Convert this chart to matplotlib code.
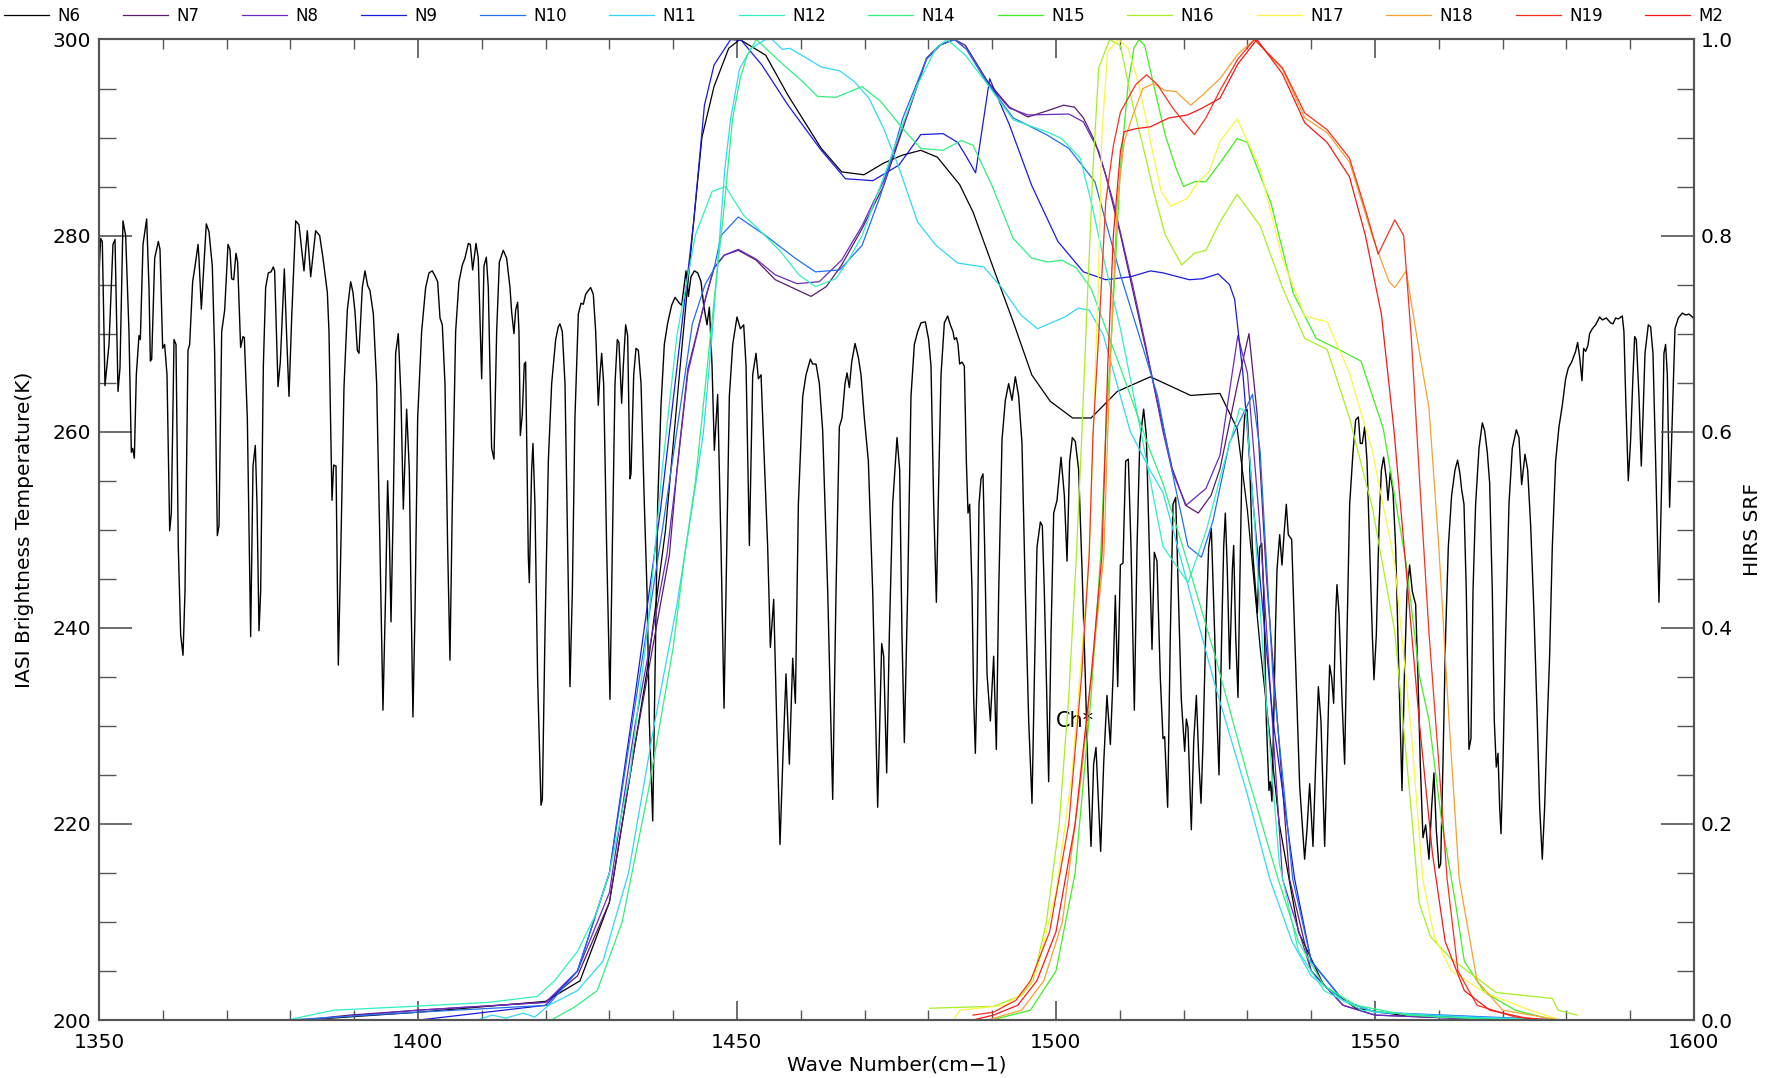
import numpy as np
import matplotlib
matplotlib.use('Agg')
import matplotlib.pyplot as plt
from matplotlib.ticker import MultipleLocator

iasi_a = [(1350.0, 276.0), (1350.26, 279.7), (1350.52, 279.4), (1350.94, 264.7), (1351.57, 268.9),
          (1352.19, 279.1), (1352.51, 279.6), (1352.98, 264.1), (1353.29, 266.5), (1353.76, 281.5),
          (1354.18, 280.0), (1354.70, 270.2), (1355.07, 257.9), (1355.28, 258.3), (1355.54, 257.3),
          (1355.85, 265.8), (1356.27, 269.8), (1356.48, 269.4), (1356.90, 279.1), (1357.47, 281.7),
          (1357.84, 274.7), (1358.05, 267.2), (1358.26, 267.4), (1358.73, 277.7), (1359.30, 279.4),
          (1359.56, 278.6), (1359.98, 268.5), (1360.29, 268.9), (1360.66, 265.8), (1361.08, 249.9),
          (1361.34, 251.7), (1361.76, 269.4), (1362.07, 268.9), (1362.43, 248.2), (1362.80, 239.3),
          (1363.17, 237.2), (1363.48, 243.7), (1363.95, 268.3), (1364.21, 268.9), (1364.68, 275.3),
          (1365.15, 277.3), (1365.52, 279.1), (1365.67, 277.7), (1366.04, 272.5), (1366.35, 276.0),
          (1366.82, 281.2), (1367.24, 280.4), (1367.76, 276.9), (1368.13, 268.0), (1368.55, 249.4),
          (1368.81, 250.4), (1369.23, 270.2), (1369.70, 272.4), (1370.22, 279.1), (1370.53, 278.6),
          (1370.79, 275.6), (1371.11, 275.5), (1371.47, 278.2), (1371.73, 277.3), (1372.20, 268.6),
          (1372.57, 269.7), (1372.78, 269.6), (1373.25, 261.4), (1373.77, 239.1), (1374.14, 256.5),
          (1374.50, 258.6), (1374.77, 252.6), (1375.08, 239.7), (1375.34, 243.7), (1375.76, 266.7),
          (1376.12, 274.7), (1376.54, 276.2), (1376.96, 276.3), (1377.32, 276.8), (1377.53, 276.4),
          (1378.06, 264.6), (1378.42, 267.1), (1379.05, 276.6), (1379.36, 270.7), (1379.78, 263.6),
          (1380.20, 271.6), (1380.83, 281.5), (1381.35, 281.1), (1382.13, 276.4), (1382.65, 280.5),
          (1383.18, 275.8), (1383.96, 280.5), (1384.59, 280.0), (1385.11, 277.7), (1385.79, 274.2),
          (1386.05, 270.2), (1386.52, 253.0), (1386.78, 256.6), (1387.15, 256.5), (1387.51, 236.2),
          (1387.88, 247.3), (1388.40, 264.5), (1388.92, 272.4), (1389.45, 275.3), (1389.81, 274.2),
          (1390.13, 272.2), (1390.49, 268.3), (1390.75, 268.0), (1391.27, 274.7)]
iasi_b = [(1391.69, 276.4), (1392.11, 274.9), (1392.47, 274.4), (1393.0, 272.0), (1393.52, 264.9),
          (1394.04, 248.2), (1394.51, 231.6), (1394.93, 243.7), (1395.24, 255.0), (1395.50, 249.9),
          (1395.77, 240.6), (1396.13, 252.6), (1396.50, 268.0), (1396.91, 270.0), (1397.33, 263.6),
          (1397.70, 252.1), (1398.22, 262.3), (1398.64, 256.1), (1398.90, 243.7), (1399.21, 230.9),
          (1399.53, 241.5), (1399.95, 261.4), (1400.57, 270.2), (1401.20, 274.7), (1401.72, 276.2),
          (1402.24, 276.4), (1402.66, 275.9), (1403.08, 275.3), (1403.45, 271.6), (1403.81, 270.9),
          (1404.23, 264.9), (1404.65, 248.2), (1405.01, 236.7), (1405.38, 252.6), (1405.90, 270.2),
          (1406.42, 275.3), (1406.95, 277.0), (1407.36, 277.7), (1407.89, 279.2), (1408.20, 279.1),
          (1408.57, 276.5), (1409.09, 279.2), (1409.45, 277.7), (1409.98, 265.4), (1410.34, 276.9),
          (1410.71, 277.8), (1411.02, 274.7), (1411.54, 258.3), (1411.91, 257.2), (1412.33, 270.2),
          (1412.75, 277.3), (1413.37, 278.5), (1413.89, 277.7), (1414.42, 274.7), (1414.68, 272.2),
          (1415.04, 270.0), (1415.31, 272.4), (1415.62, 273.2), (1415.83, 270.2), (1416.04, 259.6),
          (1416.35, 261.8), (1416.66, 266.9), (1416.87, 267.1), (1417.08, 257.0), (1417.29, 247.3),
          (1417.45, 244.6), (1417.81, 256.1), (1418.02, 258.8), (1418.33, 252.6), (1418.75, 234.9),
          (1419.28, 221.9), (1419.49, 222.5), (1419.90, 239.3), (1420.43, 257.0), (1420.95, 264.9),
          (1421.58, 269.4), (1421.99, 270.7), (1422.25, 271.0), (1422.62, 270.2), (1423.04, 264.9),
          (1423.40, 250.4), (1423.82, 234.0), (1424.19, 243.7), (1424.60, 261.4), (1425.13, 272.0),
          (1425.55, 273.1), (1425.91, 273.0), (1426.28, 274.0), (1426.70, 274.4), (1427.06, 274.7),
          (1427.48, 274.0), (1427.85, 270.2), (1428.26, 262.7), (1428.52, 265.8), (1428.79, 268.0),
          (1429.10, 264.9), (1429.57, 248.2), (1430.09, 232.7), (1430.46, 248.2), (1430.88, 264.9),
          (1431.24, 269.4), (1431.50, 269.1), (1431.92, 262.9), (1432.18, 266.7), (1432.55, 270.9),
          (1432.86, 269.8), (1433.23, 255.2)]
iasi_c = [(1433.39, 255.7), (1433.81, 265.8), (1434.17, 268.5), (1434.54, 268.3), (1434.96, 264.9),
          (1435.48, 252.6), (1435.90, 243.7), (1436.26, 230.5), (1436.79, 220.3), (1437.15, 234.9),
          (1437.57, 252.6), (1438.09, 262.7), (1438.61, 268.9), (1439.14, 271.1), (1439.76, 272.9),
          (1440.29, 273.7), (1440.97, 273.1), (1441.33, 272.9), (1442.01, 276.4), (1442.38, 273.8),
          (1442.79, 275.8), (1443.32, 276.4), (1443.84, 276.2), (1444.36, 275.3), (1444.78, 272.9),
          (1445.30, 270.9), (1445.67, 272.7), (1446.09, 266.7), (1446.45, 258.1), (1446.97, 263.8),
          (1447.50, 248.2), (1447.97, 231.8), (1448.28, 243.7), (1448.80, 263.6), (1449.33, 268.9),
          (1450.0, 271.7), (1450.53, 270.5), (1451.05, 270.9), (1451.42, 266.7), (1451.94, 248.4),
          (1452.46, 265.8), (1452.98, 268.0), (1453.35, 265.4), (1453.77, 265.8), (1454.29, 257.0),
          (1454.81, 248.2), (1455.23, 238.0), (1455.75, 242.9), (1456.22, 230.5), (1456.74, 217.9),
          (1457.16, 226.1), (1457.68, 235.3), (1458.21, 226.1), (1458.73, 236.9), (1459.15, 232.3),
          (1459.62, 252.6), (1460.30, 263.6), (1460.82, 265.8), (1461.50, 267.4), (1461.87, 266.9),
          (1462.39, 266.9), (1462.91, 264.9), (1463.43, 260.1), (1464.22, 243.7), (1465.0, 222.5),
          (1465.52, 243.7), (1466.04, 260.5), (1466.46, 261.4), (1466.93, 264.9), (1467.25, 266.0),
          (1467.61, 264.5), (1467.98, 267.1), (1468.50, 269.0), (1469.02, 267.6), (1469.44, 265.8),
          (1469.96, 261.4), (1470.59, 257.0), (1471.27, 243.7), (1472.05, 221.7), (1472.68, 238.4),
          (1472.99, 237.1), (1473.46, 225.2), (1473.88, 239.3), (1474.40, 252.6)]
iasi_d = [(1475.08, 259.4), (1475.50, 256.1), (1475.86, 239.3), (1476.23, 228.3), (1476.75, 243.7),
          (1477.27, 263.6), (1477.80, 268.9), (1478.32, 270.2), (1478.84, 271.1), (1479.52, 271.2),
          (1480.04, 269.4), (1480.41, 266.7), (1480.83, 252.6), (1481.25, 242.6), (1481.61, 254.8),
          (1481.98, 265.8), (1482.50, 271.1), (1483.02, 271.8), (1483.44, 270.9), (1483.86, 270.2),
          (1484.07, 269.4), (1484.38, 269.6), (1484.64, 268.9), (1484.90, 266.9), (1485.27, 267.1),
          (1485.63, 266.7), (1485.95, 257.0), (1486.21, 251.7), (1486.47, 252.6), (1486.84, 243.7),
          (1487.10, 232.7), (1487.36, 227.2), (1487.62, 234.9), (1487.93, 252.6), (1488.25, 255.2),
          (1488.56, 255.7), (1488.82, 248.2), (1489.19, 235.3), (1489.71, 230.5), (1490.23, 237.1),
          (1490.65, 227.6), (1491.02, 243.7), (1491.54, 259.2), (1492.06, 263.2), (1492.58, 264.9),
          (1493.11, 263.2), (1493.63, 265.6), (1494.15, 263.6), (1494.67, 258.8), (1495.19, 243.7),
          (1495.72, 230.5), (1496.24, 222.1), (1496.61, 234.9), (1497.02, 248.2), (1497.55, 250.8),
          (1497.86, 250.4), (1498.17, 243.7), (1498.49, 234.9), (1498.85, 224.3), (1499.22, 239.3),
          (1499.64, 251.7), (1500.16, 253.0), (1500.79, 257.4), (1501.31, 253.5), (1501.73, 246.8),
          (1502.14, 257.0), (1502.56, 259.4), (1503.03, 259.0), (1503.55, 256.1), (1504.08, 246.0),
          (1504.60, 234.9), (1504.97, 226.1), (1505.49, 217.7), (1505.90, 226.1), (1506.27, 227.8),
          (1506.69, 221.7), (1507.0, 217.2), (1507.47, 226.1), (1507.99, 233.1), (1508.52, 228.1),
          (1508.94, 234.9), (1509.30, 243.3), (1509.67, 234.0), (1510.09, 246.4), (1510.50, 246.6),
          (1510.92, 257.0), (1511.34, 257.2), (1511.76, 248.2), (1512.28, 231.6), (1512.70, 248.2),
          (1513.12, 258.8), (1513.74, 262.3), (1514.16, 259.6), (1514.63, 248.2), (1515.05, 237.8),
          (1515.41, 247.7), (1515.83, 246.8), (1516.35, 234.9)]
iasi_e = [(1516.77, 228.7), (1517.03, 228.9), (1517.50, 221.7), (1517.92, 239.3), (1518.34, 252.6),
          (1518.76, 253.3), (1519.17, 243.7), (1519.64, 232.7), (1520.17, 227.4), (1520.43, 230.7),
          (1520.69, 229.8), (1521.21, 219.4), (1521.58, 228.3), (1522.0, 233.1), (1522.41, 226.1),
          (1522.73, 222.1), (1523.04, 228.3), (1523.46, 239.3), (1523.93, 248.2), (1524.35, 250.1),
          (1524.87, 239.3), (1525.13, 232.7), (1525.55, 225.0), (1525.97, 239.3), (1526.28, 248.2),
          (1526.54, 251.7), (1526.85, 245.9), (1527.22, 235.8), (1527.64, 245.9), (1527.85, 248.4),
          (1528.16, 239.3), (1528.53, 232.9), (1528.79, 243.7), (1529.15, 257.0), (1529.57, 261.6),
          (1529.94, 262.3), (1530.35, 257.0), (1530.77, 248.2), (1531.29, 243.7), (1531.56, 241.5),
          (1531.92, 248.2), (1532.24, 248.6), (1532.55, 243.7), (1532.97, 230.5), (1533.38, 223.4),
          (1533.59, 224.3), (1533.85, 222.3), (1534.12, 230.5), (1534.38, 239.3), (1534.64, 245.9),
          (1535.06, 249.5), (1535.42, 246.4), (1535.74, 249.5), (1536.10, 252.6), (1536.41, 249.5),
          (1536.94, 249.0), (1537.41, 239.3), (1538.19, 223.9), (1538.97, 216.4), (1539.34, 219.4),
          (1539.76, 224.1), (1540.28, 217.7), (1540.70, 226.1), (1541.12, 234.0), (1541.53, 230.5),
          (1542.11, 217.7), (1542.47, 226.1), (1542.89, 236.2), (1543.21, 234.9), (1543.52, 232.3),
          (1543.84, 241.5), (1544.04, 244.4), (1544.36, 241.5), (1544.83, 232.7), (1545.24, 226.1),
          (1545.61, 239.3), (1546.03, 252.6), (1546.55, 257.9), (1546.97, 261.2), (1547.39, 261.5),
          (1547.70, 258.8), (1548.01, 258.8), (1548.38, 260.5), (1548.75, 257.0), (1549.16, 248.2),
          (1549.58, 239.3), (1549.84, 234.7), (1550.21, 239.3), (1550.63, 250.4), (1551.0, 256.1),
          (1551.36, 257.4), (1551.78, 255.2), (1552.04, 253.0), (1552.40, 255.9), (1552.82, 253.9),
          (1553.24, 248.2), (1553.76, 234.9), (1554.23, 223.4), (1554.60, 234.9), (1555.02, 243.7),
          (1555.43, 246.4), (1555.85, 243.7), (1556.37, 242.4), (1556.74, 234.9), (1557.10, 226.1),
          (1557.52, 218.6), (1557.94, 219.9)]
iasi_f = [(1558.46, 216.4), (1558.88, 221.7), (1559.24, 225.2), (1559.61, 219.4), (1560.03, 215.5),
          (1560.29, 215.9), (1560.65, 226.1), (1561.07, 239.3), (1561.49, 248.2), (1562.01, 253.5),
          (1562.54, 256.1), (1562.95, 257.1), (1563.32, 255.7), (1563.58, 254.1), (1563.95, 252.6),
          (1564.31, 243.7), (1564.73, 227.6), (1565.04, 228.7), (1565.36, 243.7), (1565.77, 252.6),
          (1566.30, 258.3), (1566.82, 260.9), (1567.19, 260.1), (1567.60, 257.9), (1567.97, 254.8),
          (1568.39, 243.7), (1568.70, 230.5), (1569.01, 225.8), (1569.28, 227.2), (1569.54, 221.7),
          (1569.75, 219.0), (1570.06, 226.1), (1570.48, 239.3), (1571.0, 252.6), (1571.52, 258.3),
          (1572.15, 260.2), (1572.57, 259.4), (1572.99, 254.6), (1573.51, 257.7), (1573.93, 256.1),
          (1574.40, 250.4), (1574.92, 241.5), (1575.44, 230.5), (1575.81, 221.7), (1576.22, 216.4),
          (1576.59, 221.7), (1577.01, 230.5), (1577.37, 237.1), (1577.79, 248.2), (1578.31, 257.0),
          (1578.84, 260.5), (1579.36, 262.7), (1579.88, 265.4), (1580.30, 266.5), (1580.82, 267.1),
          (1581.45, 268.2), (1581.76, 269.1), (1582.08, 267.6), (1582.44, 265.2), (1582.70, 268.5),
          (1583.02, 268.2), (1583.38, 268.8), (1583.64, 270.0), (1584.06, 270.5), (1584.58, 270.9),
          (1585.21, 271.7), (1585.63, 271.4), (1586.26, 271.6), (1586.93, 271.1), (1587.30, 271.0),
          (1587.72, 271.6), (1588.14, 271.5), (1588.76, 271.8), (1589.02, 270.2), (1589.29, 263.6),
          (1589.70, 255.0), (1590.07, 259.2), (1590.44, 265.8), (1590.70, 269.7), (1590.96, 269.4),
          (1591.38, 263.6), (1591.74, 256.5), (1592.0, 261.4), (1592.32, 268.0), (1592.84, 270.9),
          (1593.20, 270.7), (1593.57, 268.0), (1593.99, 257.0), (1594.51, 242.6), (1594.93, 254.8),
          (1595.29, 268.0), (1595.55, 268.9), (1595.82, 265.8), (1596.18, 252.3), (1596.60, 261.4),
          (1597.02, 270.5), (1597.54, 271.6), (1598.17, 272.1), (1598.69, 271.9), (1599.21, 272.0),
          (1599.74, 271.7), (1600.0, 271.5)]

# HIRS spectral response functions, (wave number, SRF)
srf_n6 = [(1382, 0.0), (1400.2, 0.008), (1420.0, 0.019), (1425.4, 0.04), (1430, 0.12), (1434, 0.28),
          (1436, 0.36), (1438.8, 0.5), (1441, 0.66), (1443, 0.8), (1444.5, 0.9), (1446.4, 0.952),
          (1448.7, 0.991), (1450.45, 1.0), (1454.5, 0.984), (1458.0, 0.943), (1463.2, 0.889),
          (1466.4, 0.865), (1469.9, 0.862), (1473.0, 0.874), (1475.9, 0.882), (1478.8, 0.887),
          (1481.4, 0.880), (1484.9, 0.852), (1487.0, 0.824), (1490.4, 0.763), (1493.3, 0.712),
          (1496.2, 0.658), (1499.1, 0.631), (1502.6, 0.614), (1505.5, 0.614), (1509.6, 0.641),
          (1514.8, 0.656), (1521.1, 0.637), (1525.7, 0.639), (1528.4, 0.603), (1530, 0.52), (1532, 0.38),
          (1535, 0.2), (1538, 0.09), (1542, 0.035), (1547, 0.012), (1555, 0.004), (1575, 0.0)]
srf_n7 = [(1382, 0.0), (1389.3, 0.005), (1400, 0.01), (1420, 0.018), (1425, 0.045), (1430, 0.12),
          (1434, 0.28), (1439.4, 0.474), (1440.6, 0.562), (1442.3, 0.664), (1445.2, 0.739),
          (1446.4, 0.767), (1448, 0.78), (1450.2, 0.785), (1453, 0.775), (1456, 0.755), (1461.6, 0.738),
          (1464, 0.748), (1466.4, 0.770), (1469.6, 0.807), (1473, 0.851), (1476.5, 0.919),
          (1479.7, 0.981), (1481.7, 0.994), (1484.1, 1.0), (1485.8, 0.994), (1489.3, 0.957),
          (1492.7, 0.931), (1495.6, 0.921), (1498.5, 0.927), (1501.2, 0.933), (1502.9, 0.931),
          (1504.3, 0.920), (1506.1, 0.896), (1507.8, 0.862), (1510.1, 0.801), (1513, 0.716),
          (1515.9, 0.631), (1518.2, 0.563), (1520.3, 0.525), (1522.3, 0.517), (1524.3, 0.535),
          (1525.7, 0.562), (1528.5, 0.65), (1530.25, 0.70), (1531.5, 0.62), (1533, 0.45), (1536.6, 0.144),
          (1540, 0.05), (1545, 0.015), (1550, 0.005), (1570, 0.0)]
srf_n8 = [(1382, 0.0), (1400, 0.01), (1420, 0.018), (1425, 0.05), (1430, 0.13), (1434, 0.3),
          (1439, 0.474), (1440.6, 0.56), (1442.3, 0.66), (1445.2, 0.74), (1446.4, 0.767), (1448, 0.78),
          (1450.2, 0.786), (1453, 0.776), (1456, 0.76), (1459.4, 0.751), (1462.9, 0.753),
          (1466.4, 0.775), (1469.6, 0.81), (1473, 0.856), (1476.5, 0.92), (1479.7, 0.98), (1482, 0.995),
          (1484.1, 1.0), (1486, 0.99), (1489.3, 0.955), (1492.7, 0.93), (1495.6, 0.923), (1502, 0.924),
          (1504.3, 0.916), (1506.7, 0.886), (1509, 0.834), (1512, 0.75), (1514, 0.69), (1516.77, 0.6),
          (1518.2, 0.56), (1520.4, 0.525), (1523.5, 0.542), (1525.7, 0.576), (1528.5, 0.698),
          (1530, 0.66), (1532, 0.5), (1535.5, 0.144), (1540, 0.05), (1545, 0.015), (1550, 0.005),
          (1570, 0.0)]
srf_n9 = [(1400.2, 0.0), (1420, 0.015), (1425, 0.05), (1430, 0.15), (1434, 0.33), (1438, 0.52),
          (1441.2, 0.7), (1443.2, 0.814), (1444.9, 0.933), (1446.4, 0.974), (1449, 1.0), (1450.7, 0.999),
          (1453.9, 0.974), (1458, 0.933), (1463.2, 0.887), (1467, 0.858), (1471.3, 0.856),
          (1475.4, 0.872), (1478.8, 0.903), (1482.3, 0.904), (1484.6, 0.895), (1486, 0.88),
          (1487.4, 0.864), (1489.6, 0.96), (1492.7, 0.913), (1496.2, 0.851), (1500.3, 0.794),
          (1504.3, 0.763), (1507.8, 0.755), (1511.7, 0.758), (1514.8, 0.764), (1516.77, 0.762),
          (1520.9, 0.755), (1523, 0.756), (1525.4, 0.761), (1527.2, 0.75), (1528, 0.735), (1529.3, 0.659),
          (1530.9, 0.527), (1534, 0.306), (1537.4, 0.144), (1540, 0.06), (1545, 0.02), (1550, 0.008),
          (1565, 0.002), (1579, 0.0)]
srf_n10 = [(1379.5, 0.0), (1400, 0.008), (1420.4, 0.015), (1425, 0.05), (1430, 0.15), (1434, 0.32),
           (1438.3, 0.5), (1441, 0.62), (1443, 0.71), (1445, 0.75), (1446.4, 0.766), (1447.5, 0.8),
           (1450.2, 0.819), (1454.5, 0.8), (1459.1, 0.777), (1462.3, 0.763), (1466.1, 0.765),
           (1469.6, 0.79), (1472.5, 0.841), (1476, 0.92), (1479.7, 0.98), (1482, 0.995), (1484.1, 1.0),
           (1486, 0.99), (1489.3, 0.955), (1493.3, 0.92), (1498.5, 0.903), (1502, 0.889),
           (1506.1, 0.855), (1507.8, 0.814), (1510.1, 0.76), (1513, 0.699), (1515.9, 0.637),
           (1518.5, 0.55), (1520.7, 0.483), (1522.8, 0.472), (1524.6, 0.509), (1527.2, 0.589),
           (1530.8, 0.638), (1532, 0.58), (1534, 0.35), (1537.1, 0.144), (1540, 0.06), (1545, 0.02),
           (1550, 0.008), (1579, 0.0)]
srf_n11 = [(1409.3, 0.0), (1411.6, 0.005), (1413.8, 0.002), (1416.5, 0.007), (1418.3, 0.003),
           (1420.5, 0.015), (1425, 0.03), (1429, 0.06), (1433, 0.15), (1437, 0.3), (1440.5, 0.42),
           (1442.9, 0.52), (1444.7, 0.597), (1446.1, 0.699), (1447.3, 0.8), (1448.1, 0.868),
           (1449, 0.919), (1450.4, 0.970), (1452.2, 0.991), (1454.5, 1.0), (1455.5, 1.0), (1457.1, 0.990),
           (1458.3, 0.991), (1460.9, 0.981), (1463.2, 0.972), (1466.1, 0.968), (1468.4, 0.957),
           (1470.7, 0.940), (1473, 0.909), (1475.4, 0.869), (1478.3, 0.814), (1481.2, 0.790),
           (1484.6, 0.772), (1488.7, 0.768), (1491.6, 0.746), (1494.5, 0.719), (1497.1, 0.705),
           (1501.4, 0.717), (1503.5, 0.726), (1505.2, 0.724), (1507.4, 0.699), (1511.65, 0.60),
           (1514.8, 0.56), (1516.77, 0.538), (1520, 0.46), (1525, 0.34), (1530, 0.23), (1533.5, 0.144),
           (1537, 0.08), (1540, 0.045), (1545, 0.02), (1550, 0.008), (1565, 0.003), (1579, 0.0)]
srf_n12 = [(1379.5, 0.0), (1386.8, 0.01), (1399.4, 0.014), (1411.1, 0.018), (1418.7, 0.024),
           (1421.4, 0.04), (1425, 0.07), (1427.9, 0.108), (1430, 0.15), (1433.2, 0.25), (1436, 0.4),
           (1438.3, 0.563), (1440.6, 0.699), (1443.5, 0.801), (1446.1, 0.845), (1448.2, 0.85),
           (1451, 0.821), (1453.3, 0.807), (1456.8, 0.784), (1459.7, 0.76), (1462.3, 0.748),
           (1465.5, 0.756), (1467.3, 0.773), (1469.6, 0.8), (1472.5, 0.851), (1475.4, 0.903),
           (1478.3, 0.954), (1481.2, 0.991), (1482.9, 1.0), (1485.8, 0.984), (1489.3, 0.954),
           (1493.3, 0.918), (1498.5, 0.906), (1500.9, 0.899), (1503.8, 0.879), (1505.5, 0.835),
           (1507.2, 0.784), (1510.1, 0.705), (1513.6, 0.59), (1516.77, 0.483), (1520.7, 0.446),
           (1523.6, 0.5), (1526, 0.56), (1528.8, 0.624), (1529.8, 0.62), (1531, 0.52), (1533, 0.32),
           (1535, 0.16), (1538, 0.07), (1542, 0.03), (1548, 0.01), (1560, 0.003), (1579, 0.0)]
srf_n14 = [(1420.9, 0.0), (1424.5, 0.013), (1428.1, 0.03), (1432, 0.1), (1436, 0.23), (1440, 0.38),
           (1441.8, 0.474), (1443.5, 0.55), (1446.4, 0.733), (1448, 0.83), (1449.3, 0.919),
           (1450.5, 0.96), (1451.6, 0.984), (1453.05, 1.0), (1456.8, 0.977), (1460.3, 0.957),
           (1462.6, 0.942), (1465.5, 0.941), (1469.6, 0.952), (1472.5, 0.937), (1476, 0.909),
           (1478.8, 0.889), (1482.3, 0.887), (1485.2, 0.897), (1487, 0.892), (1489.9, 0.852),
           (1493.3, 0.797), (1496.2, 0.777), (1498.8, 0.773), (1500.9, 0.775), (1503.2, 0.767),
           (1505.5, 0.746), (1507.2, 0.716), (1510.1, 0.665), (1514.8, 0.58), (1516.77, 0.547),
           (1520, 0.48), (1525, 0.37), (1530, 0.25), (1534.8, 0.144), (1538, 0.08), (1542, 0.035),
           (1547, 0.015), (1555, 0.005), (1570, 0.0)]
srf_n15 = [(1490, 0.0), (1496, 0.01), (1500, 0.05), (1503, 0.15), (1505.5, 0.33), (1507, 0.474),
           (1507.8, 0.597), (1509, 0.733), (1510.1, 0.869), (1511.3, 0.954), (1512.2, 0.991),
           (1513, 1.0), (1513.9, 0.994), (1515.3, 0.954), (1517.1, 0.903), (1518.8, 0.869), (1520, 0.85),
           (1521.7, 0.855), (1523.5, 0.855), (1525.7, 0.874), (1528.4, 0.899), (1530, 0.895),
           (1533.7, 0.833), (1537.2, 0.741), (1540.8, 0.695), (1544.3, 0.684), (1547.8, 0.672),
           (1551.3, 0.603), (1554.9, 0.465), (1557, 0.35), (1558.46, 0.306), (1560.5, 0.2),
           (1562.6, 0.12), (1564, 0.06), (1567.2, 0.028), (1572, 0.01), (1578, 0.0)]
srf_n16 = [(1480.2, 0.012), (1490.2, 0.014), (1494.6, 0.025), (1496.4, 0.04), (1498.5, 0.1),
           (1500.5, 0.2), (1502, 0.33), (1503.2, 0.474), (1504.05, 0.597), (1504.9, 0.733),
           (1505.8, 0.869), (1506.7, 0.971), (1508.4, 1.0), (1510.1, 0.994), (1511.9, 0.937),
           (1513.6, 0.892), (1515.3, 0.845), (1517.1, 0.801), (1519.7, 0.77), (1521.7, 0.782),
           (1523.5, 0.785), (1525.7, 0.814), (1528.4, 0.842), (1532, 0.81), (1535.5, 0.747),
           (1539, 0.695), (1542.5, 0.684), (1546, 0.614), (1549.6, 0.522), (1553.1, 0.396),
           (1555.7, 0.212), (1556.9, 0.12), (1558.7, 0.085), (1562, 0.062), (1569, 0.028),
           (1577.8, 0.022), (1578.7, 0.01), (1581.7, 0.005)]
srf_n17 = [(1484, 0.0), (1484.9, 0.01), (1492, 0.015), (1494.6, 0.027), (1497, 0.05), (1500, 0.13),
           (1502.5, 0.25), (1504, 0.37), (1505.2, 0.474), (1506, 0.631), (1506.7, 0.767),
           (1507.2, 0.903), (1508.1, 0.988), (1509.8, 1.0), (1511.3, 0.991), (1513, 0.954),
           (1514.8, 0.896), (1516.5, 0.845), (1518, 0.83), (1520.6, 0.838), (1522.3, 0.855),
           (1524, 0.865), (1525.7, 0.896), (1528.4, 0.919), (1532, 0.868), (1535.5, 0.776),
           (1539, 0.718), (1542.5, 0.712), (1546, 0.66), (1549.6, 0.58), (1553.1, 0.465),
           (1555.7, 0.292), (1557.5, 0.143), (1559.3, 0.085), (1562, 0.05), (1567.2, 0.028),
           (1574.3, 0.01), (1579, 0.0)]
srf_n18 = [(1489.3, 0.0), (1494.6, 0.01), (1498.1, 0.04), (1501, 0.1), (1504, 0.25), (1506, 0.38),
           (1507.5, 0.474), (1508.1, 0.597), (1508.7, 0.699), (1509.6, 0.835), (1510.7, 0.896),
           (1511.9, 0.920), (1513.6, 0.950), (1515.3, 0.955), (1517.1, 0.948), (1518.8, 0.947),
           (1521.1, 0.933), (1522.9, 0.943), (1525.7, 0.960), (1528.5, 0.985), (1531.1, 1.0),
           (1535.5, 0.97), (1539, 0.92), (1542.5, 0.905), (1546, 0.875), (1549.6, 0.799),
           (1552.2, 0.753), (1553.1, 0.747), (1554.9, 0.764), (1556.3, 0.707), (1558.46, 0.624),
           (1560, 0.483), (1561.6, 0.306), (1563.2, 0.144), (1566, 0.04), (1570, 0.01), (1579, 0.0)]
srf_n19 = [(1487, 0.005), (1490.2, 0.008), (1493.7, 0.02), (1496, 0.04), (1499, 0.09), (1502, 0.2),
           (1504, 0.35), (1505.2, 0.474), (1505.8, 0.597), (1506.7, 0.699), (1507.8, 0.835),
           (1509, 0.892), (1510.1, 0.926), (1512.5, 0.954), (1514.2, 0.964), (1515.9, 0.954),
           (1518.2, 0.931), (1520, 0.916), (1521.7, 0.903), (1523.5, 0.920), (1525.7, 0.948),
           (1528.5, 0.98), (1531.1, 1.0), (1535.5, 0.971), (1539, 0.925), (1542.5, 0.908),
           (1546, 0.879), (1548.7, 0.822), (1550.5, 0.781), (1553.1, 0.816), (1554.5, 0.8),
           (1555.7, 0.695), (1557, 0.55), (1558.46, 0.395), (1560, 0.262), (1561.3, 0.144),
           (1563, 0.05), (1566, 0.015), (1572, 0.003), (1578, 0.0)]
srf_m2 = [(1487, 0.0), (1490.2, 0.005), (1494, 0.015), (1497, 0.04), (1500, 0.09), (1503, 0.2),
          (1505.5, 0.35), (1507.2, 0.474), (1508.1, 0.665), (1509, 0.801), (1510.1, 0.886),
          (1510.7, 0.906), (1512.5, 0.909), (1514.8, 0.911), (1517.7, 0.920), (1520.6, 0.923),
          (1522.9, 0.930), (1525.7, 0.940), (1528.5, 0.975), (1531.5, 1.0), (1535.5, 0.965),
          (1539, 0.915), (1542.5, 0.895), (1546, 0.86), (1548.5, 0.8), (1551, 0.72), (1553, 0.6),
          (1555, 0.45), (1557, 0.3), (1559, 0.17), (1561, 0.08), (1564, 0.03), (1568, 0.01),
          (1575, 0.0)]

channels = ['N6', 'N7', 'N8', 'N9', 'N10', 'N11', 'N12', 'N14', 'N15', 'N16', 'N17', 'N18', 'N19', 'M2']
srfs = [srf_n6, srf_n7, srf_n8, srf_n9, srf_n10, srf_n11, srf_n12, srf_n14,
        srf_n15, srf_n16, srf_n17, srf_n18, srf_n19, srf_m2]
colors = ['#000000', '#5a1a6e', '#6a2ac0', '#1a1ae0', '#2070f0', '#30d8f8', '#30f0c0', '#30f080',
          '#40f020', '#a8f020', '#f8f840', '#f8a030', '#f83020', '#f81818']

iasi = np.array(iasi_a + iasi_b + iasi_c + iasi_d + iasi_e + iasi_f)

plt.rcParams['font.family'] = 'DejaVu Sans'
fig = plt.figure(figsize=(17.69, 10.78), dpi=100)
ax = fig.add_axes([0.05596, 0.0538, 0.90164, 0.90956])
ax2 = ax.twinx()

ax.plot(iasi[:, 0], iasi[:, 1], color='black', lw=1.0)

handles = []
for ch, pts, col in zip(channels, srfs, colors):
    p = np.array(pts)
    h, = ax2.plot(p[:, 0], p[:, 1], color=col, lw=0.9, label=ch)
    handles.append(h)

ax.set_xlim(1350, 1600)
ax.set_ylim(200, 300)
ax2.set_ylim(0, 1)

ax.xaxis.set_major_locator(MultipleLocator(50))
ax.xaxis.set_minor_locator(MultipleLocator(10))
ax.yaxis.set_major_locator(MultipleLocator(20))
ax.yaxis.set_minor_locator(MultipleLocator(5))
ax2.yaxis.set_major_locator(MultipleLocator(0.2))
ax2.yaxis.set_minor_locator(MultipleLocator(0.05))
ax2.yaxis.set_major_formatter(plt.FormatStrFormatter('%.1f'))

axcol = '#555555'
ax.tick_params(axis='x', which='both', direction='in', top=True, colors=axcol, labelcolor='black',
               labelsize=14.5, pad=9)
ax.tick_params(axis='x', which='major', length=14, width=1.2)
ax.tick_params(axis='x', which='minor', length=7, width=1.0)
ax.tick_params(axis='y', which='both', direction='in', right=False, colors=axcol, labelcolor='black',
               labelsize=14.5, pad=6)
ax.tick_params(axis='y', which='major', length=24, width=1.2)
ax.tick_params(axis='y', which='minor', length=12, width=1.0)
ax2.tick_params(axis='y', which='both', direction='in', colors=axcol, labelcolor='black',
                labelsize=14.5, pad=5)
ax2.tick_params(axis='y', which='major', length=24, width=1.2)
ax2.tick_params(axis='y', which='minor', length=12, width=1.0)
for a in (ax, ax2):
    for s in a.spines.values():
        s.set_color(axcol)
        s.set_linewidth(1.5)

ax.set_xlabel('Wave Number(cm\u22121)', fontsize=14.5)
ax.xaxis.set_label_coords(0.5, -0.036)
ax.set_ylabel('IASI Brightness Temperature(K)', fontsize=14.5)
ax.yaxis.set_label_coords(-0.041, 0.5)
ax2.set_ylabel('HIRS SRF', fontsize=14.5)
ax2.yaxis.set_label_coords(1.031, 0.5)

ax.text(1500, 230.5, 'Ch*', fontsize=15, va='center', ha='left')

fig.legend(handles=handles, loc='center left', bbox_to_anchor=(0.0025, 0.985), ncol=14, frameon=False,
           fontsize=12, handlelength=2.7, handletextpad=0.5, columnspacing=2.55, borderpad=0,
           borderaxespad=0)

fig.savefig('out.png', dpi=100)
